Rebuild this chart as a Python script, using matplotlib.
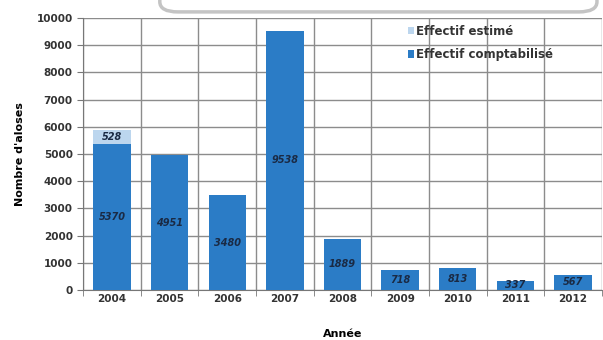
import matplotlib.pyplot as plt
from matplotlib.patches import FancyBboxPatch
import numpy as np

years = ["2004", "2005", "2006", "2007", "2008", "2009", "2010", "2011", "2012"]
counted = [5370, 4951, 3480, 9538, 1889, 718, 813, 337, 567]
estimated = [528, 0, 0, 0, 0, 0, 0, 0, 0]

blue = "#2b7cc6"
light_blue = "#bcd6ee"

fig = plt.figure(figsize=(6.03, 3.4), dpi=100)
ax = fig.add_axes([0.138, 0.147, 0.86, 0.8])

x = np.arange(len(years))
b1 = ax.bar(x, counted, width=0.65, color=blue, label="Effectif comptabilisé", zorder=3)
b2 = ax.bar(x, estimated, width=0.65, bottom=counted, color=light_blue,
            label="Effectif estimé", zorder=3)

# value labels inside bars
for i, v in enumerate(counted):
    ax.text(x[i], v / 2, str(v), ha="center", va="center", fontsize=7,
            fontweight="bold", style="italic", color="#1a2a44", zorder=4)
for i, v in enumerate(estimated):
    if v > 0:
        ax.text(x[i], counted[i] + v / 2, str(v), ha="center", va="center", fontsize=7,
                fontweight="bold", style="italic", color="#1a2a44", zorder=4)

ax.set_xlim(-0.5, len(years) - 0.5)
ax.set_ylim(0, 10000)
ax.set_yticks(np.arange(0, 10001, 1000))
ax.set_xticks(x)
ax.set_xticklabels(years)
ax.set_xticks(np.arange(-0.5, len(years), 1), minor=True)
ax.tick_params(axis="x", which="major", length=0, labelsize=7.5, pad=3)
ax.tick_params(axis="x", which="minor", length=4, color="#777777")
ax.tick_params(axis="y", labelsize=7.5, length=4, color="#777777")
for lab in ax.get_xticklabels() + ax.get_yticklabels():
    lab.set_fontweight("bold")
    lab.set_color("#333333")

ax.grid(axis="y", which="major", color="#8c8c8c", linewidth=1.0, zorder=0)
ax.grid(axis="x", which="minor", color="#8c8c8c", linewidth=1.0, zorder=0)
for s in ["top", "right"]:
    ax.spines[s].set_visible(False)
ax.spines["left"].set_color("#777777")
ax.spines["bottom"].set_color("#777777")

ax.set_ylabel("Nombre d'aloses", fontsize=8, fontweight="bold", labelpad=8)
ax.set_xlabel("Année", fontsize=8, fontweight="bold", labelpad=18)

handles = [b2, b1]
leg = ax.legend(handles=handles, labels=[h.get_label() for h in handles],
                loc="upper left", bbox_to_anchor=(0.605, 1.015), frameon=False,
                handlelength=0.55, handleheight=0.55, handletextpad=0.15,
                labelspacing=0.9, prop={"weight": "bold", "size": 8.5})
for t in leg.get_texts():
    t.set_color("#333333")

# partial rounded box peeking at top
box = FancyBboxPatch((0.265, 0.965), 0.725, 0.1, boxstyle="round,pad=0,rounding_size=0.03",
                     transform=fig.transFigure, facecolor="white", edgecolor="#c4c4c4",
                     linewidth=2.5, zorder=10)
fig.patches.append(box)

fig.savefig("out.png", dpi=100)
